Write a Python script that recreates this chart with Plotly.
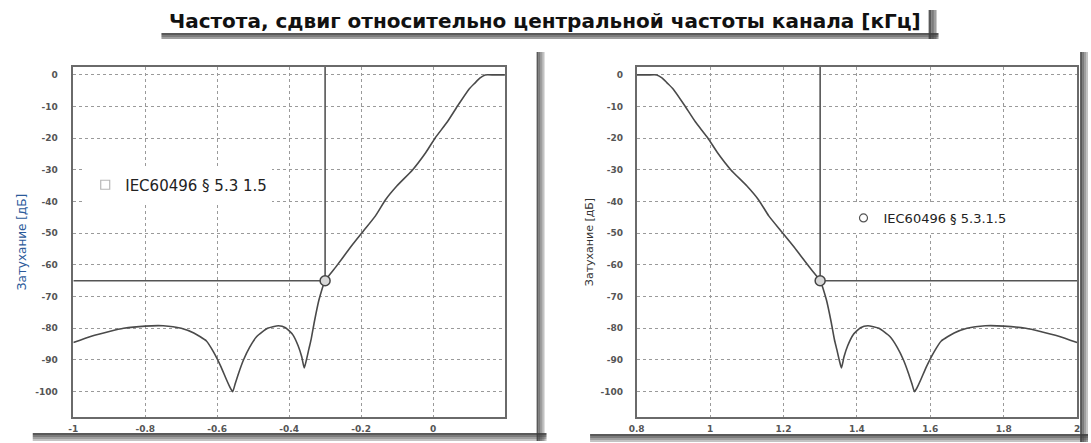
import plotly.graph_objects as go

W, H = 1091, 443

# ---------------- data ----------------
left_x = [-1.0, -0.95, -0.9, -0.86, -0.8, -0.75, -0.7, -0.665, -0.63, -0.61,
          -0.59, -0.575, -0.565, -0.557, -0.55, -0.54, -0.527, -0.51, -0.49, -0.46,
          -0.43, -0.41, -0.39, -0.375, -0.365, -0.358, -0.352, -0.345, -0.339, -0.33,
          -0.317, -0.3, -0.27, -0.23, -0.195, -0.16, -0.132, -0.1, -0.057, -0.02,
          0.006, 0.04, 0.07, 0.1, 0.117, 0.13, 0.145, 0.17, 0.2]
left_y = [-84.5, -82.5, -81, -80, -79.3, -79.2, -80, -81.5, -84, -87.5,
          -92, -96, -98.5, -100, -97.5, -94, -90, -86, -82.6, -80,
          -79.2, -79.8, -82, -85.5, -89, -92.5, -90, -86.5, -83.6, -78,
          -71, -65, -60.6, -54.5, -49.5, -44.5, -39.4, -35, -30, -24.5,
          -19.9, -14.8, -9.5, -4.5, -2.5, -1, 0, 0, 0]

right_x = [0.8, 0.83, 0.855, 0.87, 0.883, 0.9, 0.93, 0.96, 0.994, 1.02,
           1.057, 1.1, 1.132, 1.16, 1.195, 1.23, 1.27, 1.3, 1.317, 1.33,
           1.339, 1.345, 1.352, 1.358, 1.365, 1.375, 1.39, 1.41, 1.43, 1.46,
           1.49, 1.51, 1.527, 1.54, 1.55, 1.557, 1.565, 1.575, 1.59, 1.61,
           1.63, 1.665, 1.7, 1.75, 1.8, 1.86, 1.9, 1.95, 2.0]
right_y = [0, 0, 0, -1, -2.5, -4.5, -9.5, -14.8, -19.9, -24.5,
           -30, -35, -39.4, -44.5, -49.5, -54.5, -60.6, -65, -71, -78,
           -83.6, -86.5, -90, -92.5, -89, -85.5, -82, -79.8, -79.2, -80,
           -82.6, -86, -90, -94, -97.5, -100, -98.5, -96, -92, -87.5,
           -84, -81.5, -80, -79.2, -79.3, -80, -81, -82.5, -84.5]

left_xticks = [-1, -0.8, -0.6, -0.4, -0.2, 0]
left_xticklabels = ["-1", "-0.8", "-0.6", "-0.4", "-0.2", "0"]
right_xticks = [0.8, 1, 1.2, 1.4, 1.6, 1.8, 2]
right_xticklabels = ["0.8", "1", "1.2", "1.4", "1.6", "1.8", "2"]
yticks = [0, -10, -20, -30, -40, -50, -60, -70, -80, -90, -100]
yticklabels = ["0", "-10", "-20", "-30", "-40", "-50", "-60", "-70", "-80", "-90", "-100"]

left_range_x = [-1, 0.2]
right_range_x = [0.8, 2.0]
range_y = [-108, 2.5]

left_point = (-0.3, -65)
right_point = (1.3, -65)

title_text = "Частота, сдвиг относительно центральной частоты канала [кГц]"
ytitle = "Затухание [дБ]"
left_legend = "IEC60496 § 5.3 1.5"
right_legend = "IEC60496 § 5.3.1.5"

# ---------------- helpers ----------------
def px(x):
    return x / W

def py(y):
    return 1 - y / H

LINE = "#4a4a4a"

fig = go.Figure()

# curves
fig.add_trace(go.Scatter(x=left_x, y=left_y, mode="lines",
                         line=dict(color=LINE, width=1.6, shape="spline", smoothing=0.5),
                         showlegend=False, xaxis="x", yaxis="y"))
fig.add_trace(go.Scatter(x=right_x, y=right_y, mode="lines",
                         line=dict(color=LINE, width=1.6, shape="spline", smoothing=0.5),
                         showlegend=False, xaxis="x2", yaxis="y2"))

# marker construction lines
fig.add_trace(go.Scatter(x=[left_range_x[0], left_point[0], left_point[0]],
                         y=[left_point[1], left_point[1], range_y[1]],
                         mode="lines", line=dict(color="#555", width=1.6),
                         showlegend=False, xaxis="x", yaxis="y"))
fig.add_trace(go.Scatter(x=[right_range_x[1], right_point[0], right_point[0]],
                         y=[right_point[1], right_point[1], range_y[1]],
                         mode="lines", line=dict(color="#555", width=1.6),
                         showlegend=False, xaxis="x2", yaxis="y2"))

# markers
fig.add_trace(go.Scatter(x=[left_point[0]], y=[left_point[1]], mode="markers",
                         marker=dict(symbol="circle", size=10, color="#d8d8d8",
                                     line=dict(color="#444", width=1.5)),
                         showlegend=False, xaxis="x", yaxis="y"))
fig.add_trace(go.Scatter(x=[right_point[0]], y=[right_point[1]], mode="markers",
                         marker=dict(symbol="circle", size=10, color="#d8d8d8",
                                     line=dict(color="#444", width=1.5)),
                         showlegend=False, xaxis="x2", yaxis="y2"))

# legend entries
fig.add_trace(go.Scatter(x=[None], y=[None], mode="markers", name=left_legend,
                         marker=dict(symbol="square-open", size=9, color="#b8b8b8",
                                     line=dict(width=1.2)),
                         legend="legend", xaxis="x", yaxis="y"))
fig.add_trace(go.Scatter(x=[None], y=[None], mode="markers", name=right_legend,
                         marker=dict(symbol="circle-open", size=8, color="#555",
                                     line=dict(width=1.2)),
                         legend="legend2", xaxis="x2", yaxis="y2"))

axis_common = dict(showline=True, mirror=True, linecolor="#6a6a6a", linewidth=1.5,
                   showgrid=True, gridcolor="#9a9a9a", griddash="dot", gridwidth=1,
                   zeroline=False, ticks="",
                   tickfont=dict(family="DejaVu Sans", size=9, color="#555", weight="bold"))

shapes = []

def shadow_band(x0, y0, x1, y1, horizontal=True, steps=4):
    out = []
    for i in range(steps):
        op = 0.85 - i * 0.18
        if horizontal:
            h = (y1 - y0) / steps
            a, b = y0 + i * h, y0 + (i + 1) * h
            out.append(dict(type="rect", xref="paper", yref="paper", x0=px(x0), x1=px(x1),
                            y0=py(b), y1=py(a), line=dict(width=0),
                            fillcolor="rgba(60,60,60,%.2f)" % op, layer="below"))
        else:
            w = (x1 - x0) / steps
            a, b = x0 + i * w, x0 + (i + 1) * w
            out.append(dict(type="rect", xref="paper", yref="paper", x0=px(a), x1=px(b),
                            y0=py(y1), y1=py(y0), line=dict(width=0),
                            fillcolor="rgba(60,60,60,%.2f)" % op, layer="below"))
    return out

# panel shadows
shapes += shadow_band(25, 433, 544, 441, horizontal=True)
shapes += shadow_band(534, 52, 542, 441, horizontal=False)
shapes += shadow_band(588, 434, 1091, 442, horizontal=True)
shapes += shadow_band(1083, 52, 1091, 442, horizontal=False)
# title banner
shapes.append(dict(type="rect", xref="paper", yref="paper", x0=px(150), x1=px(932),
                   y0=py(33), y1=py(8), line=dict(width=0), fillcolor="white", layer="below"))
shapes += shadow_band(155, 33, 940, 39, horizontal=True, steps=3)
shapes += shadow_band(930, 10, 938, 39, horizontal=False, steps=3)

fig.update_layout(
    width=W, height=H,
    margin=dict(l=0, r=0, t=0, b=0),
    paper_bgcolor="white", plot_bgcolor="white",
    xaxis=dict(domain=[px(66), px(502)], range=left_range_x, tickvals=left_xticks,
               ticktext=left_xticklabels, anchor="y", ticklabelstandoff=2, **axis_common),
    yaxis=dict(domain=[py(417), py(67)], range=range_y, tickvals=yticks, ticktext=yticklabels,
               anchor="x", ticklabelstandoff=12,
               title=dict(text=ytitle, font=dict(family="DejaVu Sans", size=12, color="#2b5a9a"),
                          standoff=6),
               **axis_common),
    xaxis2=dict(domain=[px(635), px(1080)], range=right_range_x, tickvals=right_xticks,
                ticktext=right_xticklabels, anchor="y2", ticklabelstandoff=2, **axis_common),
    yaxis2=dict(domain=[py(417), py(67)], range=range_y, tickvals=yticks, ticktext=yticklabels,
                anchor="x2", ticklabelstandoff=10,
                title=dict(text=ytitle, font=dict(family="DejaVu Sans", size=11, color="#333"),
                           standoff=5),
                **axis_common),
    legend=dict(x=px(78), y=py(185), xanchor="left", yanchor="middle",
                bgcolor="white", borderwidth=0,
                font=dict(family="DejaVu Sans", size=15, color="#222"),
                itemwidth=30, tracegroupgap=0),
    legend2=dict(x=px(844), y=py(218), xanchor="left", yanchor="middle",
                 bgcolor="white", borderwidth=0,
                 font=dict(family="DejaVu Sans", size=13, color="#222"),
                 itemwidth=30, tracegroupgap=0),
    shapes=shapes,
    annotations=[dict(text=title_text, xref="paper", yref="paper", x=px(542), y=py(21),
                      xanchor="center", yanchor="middle", showarrow=False,
                      font=dict(family="DejaVu Sans", size=20, color="#111", weight="bold"))],
)

fig.write_html("out.html")
